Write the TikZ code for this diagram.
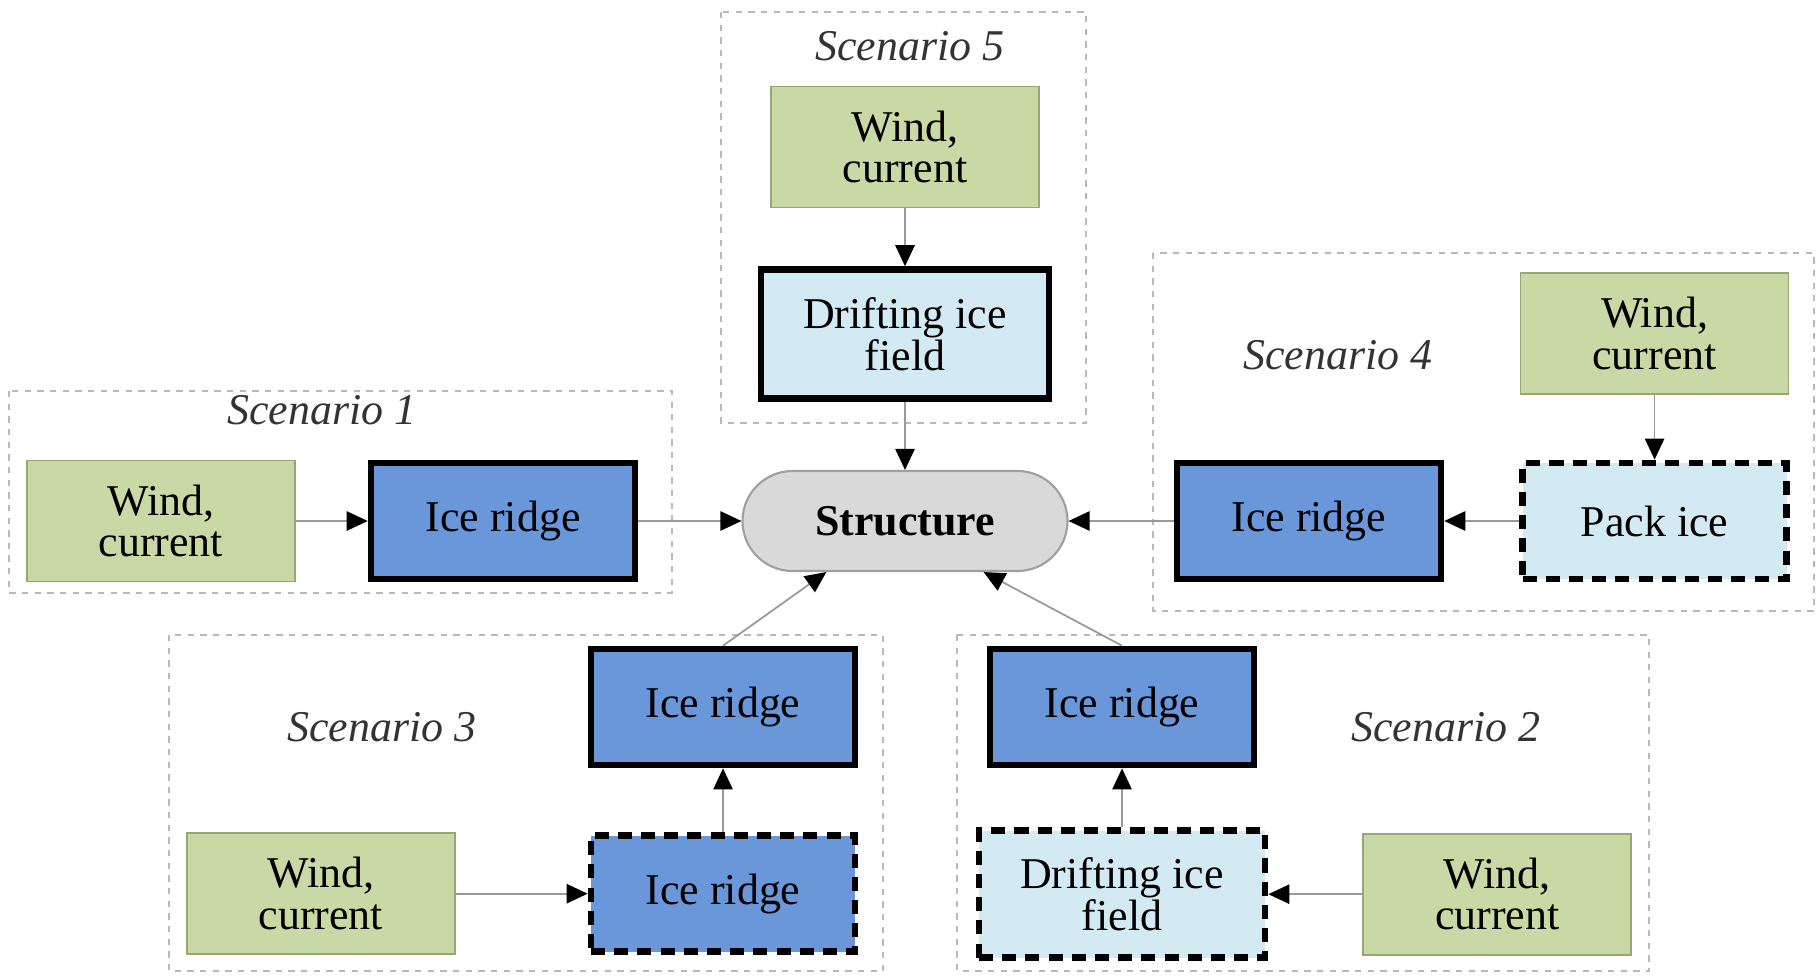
\documentclass[tikz,border=0pt]{standalone}
\usepackage{fontspec}
\setmainfont{Liberation Serif}
\usetikzlibrary{positioning,arrows.meta}

\definecolor{windgreen}{RGB}{201,217,165}
\definecolor{windedge}{RGB}{150,168,112}
\definecolor{ridgeblue}{RGB}{106,150,218}
\definecolor{iceblue}{RGB}{212,234,242}
\definecolor{structgray}{RGB}{217,217,217}

\begin{document}
\begin{tikzpicture} [
	text centered,
	font=\fontsize{12.5}{11.8}\selectfont,
	nwind/.style={
		rectangle,align=center,minimum width=2.68cm,minimum height=1.21cm,
		draw=windedge,line width=0.5pt,fill=windgreen
	},
	nridge/.style={
		rectangle,align=center,minimum width=2.64cm,minimum height=1.16cm,
		draw=black,line width=1.9pt,fill=ridgeblue
	},
	ndrift/.style={
		rectangle,align=center,minimum width=2.86cm,minimum height=1.27cm,
		draw=black,line width=1.9pt,fill=iceblue
	},
	nloose/.style={dash pattern=on 4pt off 2.6pt},
	nstruct/.style={
		rectangle,rounded corners=0.5cm,minimum width=3.25cm,minimum height=1cm,
		draw=gray!75,line width=0.6pt,fill=structgray,
		font=\fontsize{12.5}{11.8}\selectfont\bfseries
	},
	nframe/.style={draw=gray!55,line width=0.5pt,dash pattern=on 1.8pt off 1.8pt},
	ntitle/.style={font=\fontsize{12.5}{14}\selectfont\itshape,text=black!80},
	flow/.style={draw=gray!80,line width=0.5pt,-{Triangle[length=6pt,width=5.5pt,black]}}
]
\useasboundingbox (0,0) rectangle (18.17,-9.76);

% scenario frames
\draw [nframe] (0.09,-3.91) rectangle (6.72,-5.93);
\draw [nframe] (7.21,-0.12) rectangle (10.86,-4.23);
\draw [nframe] (11.53,-2.53) rectangle (18.14,-6.11);
\draw [nframe] (1.69,-6.35) rectangle (8.83,-9.71);
\draw [nframe] (9.57,-6.35) rectangle (16.49,-9.71);

\node [ntitle]	(title1) at (3.22,-4.10)	{Scenario 1};
\node [ntitle]	(title2) at (14.46,-7.27)	{Scenario 2};
\node [ntitle]	(title3) at (3.82,-7.27)	{Scenario 3};
\node [ntitle]	(title4) at (13.38,-3.55)	{Scenario 4};
\node [ntitle]	(title5) at (9.10,-0.46)	{Scenario 5};

\node [nstruct]	(structure) at (9.05,-5.21)	{Structure};

% scenario 1
\node [nridge]	(ridgeA)[left=1.03cm of structure]	{Ice ridge}
	edge [flow]	(structure);
\node [nwind]	(windA)[left=0.72cm of ridgeA]	{Wind,\\current}
	edge [flow]	(ridgeA);

% scenario 5
\node [ndrift,minimum width=2.88cm,minimum height=1.29cm]	(driftE)[above=0.68cm of structure]	{Drifting ice\\field}
	edge [flow]	(structure);
\node [nwind]	(windE)[above=0.58cm of driftE]	{Wind,\\current}
	edge [flow]	(driftE);

% scenario 4
\node [nridge]	(ridgeD)[right=1.05cm of structure]	{Ice ridge}
	edge [flow]	(structure);
\node [nridge,fill=iceblue,nloose]	(packD)[right=0.75cm of ridgeD]	{Pack ice}
	edge [flow]	(ridgeD);
\node [nwind]	(windD)[above=0.65cm of packD]	{Wind,\\current}
	edge [flow]	(packD);

% scenario 3
\node [nridge]	(ridgeC) at (7.23,-7.07)	{Ice ridge};
\node [nridge,nloose]	(looseC)[below=0.64cm of ridgeC]	{Ice ridge}
	edge [flow]	(ridgeC);
\node [nwind]	(windC)[left=1.32cm of looseC]	{Wind,\\current}
	edge [flow]	(looseC);
\draw [flow] (ridgeC.north) -- (structure.213);

% scenario 2
\node [nridge]	(ridgeB) at (11.22,-7.07)	{Ice ridge};
\node [ndrift,nloose]	(driftB)[below=0.59cm of ridgeB]	{Drifting ice\\field}
	edge [flow]	(ridgeB);
\node [nwind]	(windB)[right=0.94cm of driftB]	{Wind,\\current}
	edge [flow]	(driftB);
\draw [flow] (ridgeB.north) -- (structure.327);
\end{tikzpicture}
\end{document}
